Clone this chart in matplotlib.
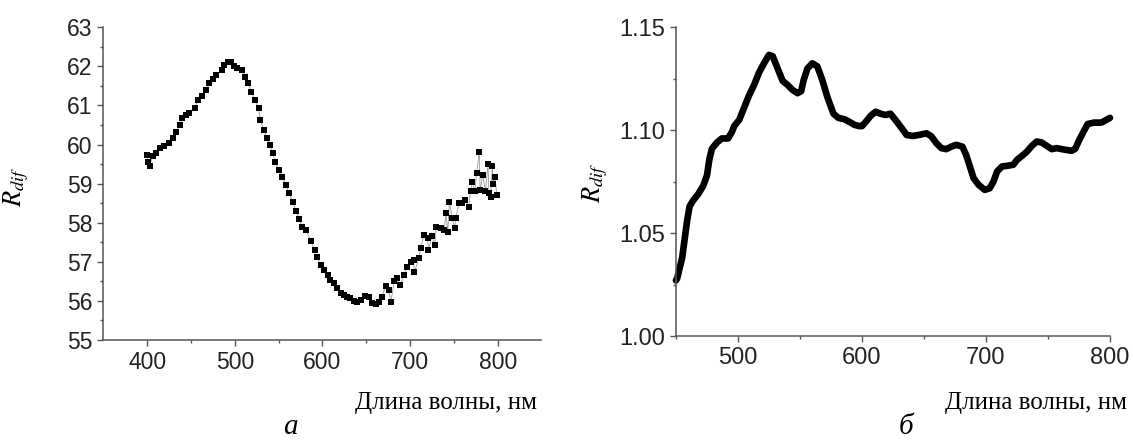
import matplotlib
matplotlib.use('Agg')
import matplotlib.pyplot as plt
from matplotlib.ticker import MultipleLocator, FormatStrFormatter

plt.rcParams['mathtext.fontset'] = 'stix'

# panel (а): scattered points, wavelength (nm) vs R_dif
wl_a = [400, 401, 403, 406, 410, 415, 419, 425, 429, 433, 437, 440, 444, 448,
        454, 458, 463, 467, 471, 475, 479, 485, 488, 492, 496, 499, 502, 508,
        512, 515, 519, 523, 527, 529, 533, 537, 540, 543, 546, 550, 554, 558,
        562, 566, 570, 573, 577, 581, 587, 591, 594, 598, 602, 606, 609, 613,
        617, 621, 625, 628, 632, 636, 640, 644, 649, 653, 657, 661, 665, 668,
        672, 676, 678, 682, 685, 689, 693, 697, 701, 704, 705, 710, 712, 716,
        720, 721, 725, 728, 730, 735, 739, 741, 743, 745, 748, 751, 752, 756,
        759, 763, 767, 769, 771, 774, 776, 779, 780, 783, 786, 789, 790, 792,
        794, 795, 797, 799]
r_a = [59.73, 59.55, 59.45, 59.70, 59.78, 59.90, 59.96, 60.03, 60.16, 60.33,
       60.50, 60.67, 60.76, 60.80, 60.93, 61.14, 61.24, 61.40, 61.57, 61.67,
       61.78, 61.90, 62.04, 62.10, 62.12, 62.00, 61.95, 61.90, 61.74, 61.57,
       61.35, 61.14, 60.93, 60.63, 60.37, 60.16, 59.99, 59.78, 59.56, 59.35,
       59.18, 58.97, 58.75, 58.54, 58.29, 58.10, 57.90, 57.82, 57.52, 57.31,
       57.13, 56.92, 56.79, 56.67, 56.54, 56.45, 56.33, 56.20, 56.15, 56.11,
       56.07, 56.01, 55.98, 56.03, 56.13, 56.09, 55.94, 55.92, 55.98, 56.11,
       56.37, 56.28, 55.96, 56.50, 56.58, 56.41, 56.67, 56.88, 57.00, 57.05,
       56.73, 57.09, 57.35, 57.69, 57.60, 57.31, 57.65, 57.43, 57.90, 57.86,
       57.82, 58.24, 57.77, 58.54, 58.12, 57.86, 58.12, 58.50, 58.50, 58.58,
       58.41, 58.80, 59.05, 58.80, 59.27, 59.82, 58.84, 59.22, 58.80, 59.50,
       58.75, 58.67, 59.46, 59.00, 59.18, 58.71]

# panel (б): smooth curve
wl_b = [450, 451, 453, 455, 457, 459, 461, 464, 468, 472, 475, 477, 479, 483,
        487, 492, 495, 497, 501, 505, 509, 513, 517, 521, 525, 528, 532, 536,
        540, 544, 548, 551, 553, 556, 560, 564, 568, 572, 577, 581, 586, 590,
        594, 598, 600, 603, 607, 611, 615, 619, 623, 627, 632, 636, 641, 646,
        652, 656, 660, 664, 668, 672, 676, 681, 684, 687, 690, 694, 699, 703,
        706, 709, 713, 717, 722, 725, 729, 733, 737, 741, 745, 749, 753, 757,
        763, 769, 772, 775, 779, 782, 787, 793, 797, 800]
r_b = [1.027, 1.028, 1.033, 1.038, 1.047, 1.056, 1.063, 1.066, 1.069, 1.073,
       1.078, 1.086, 1.091, 1.094, 1.096, 1.096, 1.099, 1.102, 1.105, 1.111,
       1.117, 1.122, 1.128, 1.1325, 1.1366, 1.136, 1.130, 1.124, 1.122, 1.1196,
       1.118, 1.119, 1.1244, 1.130, 1.1325, 1.131, 1.1244, 1.1163, 1.108, 1.106,
       1.1053, 1.104, 1.1026, 1.102, 1.102, 1.104, 1.107, 1.109, 1.108, 1.1074,
       1.108, 1.105, 1.101, 1.0977, 1.0972, 1.0977, 1.0985, 1.097, 1.0937,
       1.0913, 1.0908, 1.092, 1.0929, 1.092, 1.088, 1.0824, 1.0767, 1.0735,
       1.071, 1.0718, 1.075, 1.080, 1.0824, 1.0827, 1.0832, 1.0856, 1.0875,
       1.0896, 1.0924, 1.0945, 1.094, 1.0924, 1.0908, 1.0913, 1.0906, 1.090,
       1.091, 1.095, 1.0997, 1.103, 1.1037, 1.1037, 1.105, 1.106]

xlabel = 'Длина волны, нм'
ylabel = r'$R_{dif}$'

fig = plt.figure(figsize=(11.33, 4.42), dpi=100)
ax1 = fig.add_axes([0.0913, 0.2308, 0.3866, 0.7074])
ax2 = fig.add_axes([0.5966, 0.2398, 0.3831, 0.6984])


def style(ax, size):
    for s in ['top', 'right']:
        ax.spines[s].set_visible(False)
    for s in ['left', 'bottom']:
        ax.spines[s].set_color('#555555')
        ax.spines[s].set_linewidth(1.1)
    ax.tick_params(which='major', direction='out', length=4, width=1,
                   color='#555555', labelsize=size, labelcolor='#222222', pad=4)
    ax.tick_params(which='minor', direction='out', length=2.5, width=1,
                   color='#555555')
    for lab in ax.get_xticklabels() + ax.get_yticklabels():
        lab.set_family('Liberation Sans')


# (а)
ax1.plot(wl_a, r_a, color='#9a9a9a', lw=0.6, zorder=1)
ax1.plot(wl_a, r_a, ls='none', marker='s', ms=5, color='black',
         markeredgewidth=0, zorder=2)
ax1.set_xlim(350, 850)
ax1.set_ylim(55, 63)
ax1.set_xticks([400, 500, 600, 700, 800])
ax1.set_xticks([450, 550, 650, 750], minor=True)
ax1.yaxis.set_major_locator(MultipleLocator(1))
ax1.yaxis.set_minor_locator(MultipleLocator(0.5))
style(ax1, 16.5)

# (б)
ax2.plot(wl_b, r_b, color='black', lw=4.8, solid_joinstyle='round',
         solid_capstyle='round', clip_on=False)
ax2.set_xlim(450, 800)
ax2.set_ylim(1.00, 1.15)
ax2.set_xticks([500, 600, 700, 800])
ax2.set_xticks([450, 550, 650, 750], minor=True)
ax2.set_yticks([1.00, 1.05, 1.10, 1.15])
ax2.yaxis.set_minor_locator(MultipleLocator(0.025))
ax2.yaxis.set_major_formatter(FormatStrFormatter('%.2f'))
style(ax2, 17)

# axis titles placed like in the original
fig.text(0.474, 0.075, xlabel, ha='right', va='baseline',
         family='Liberation Serif', fontsize=18)
fig.text(0.9947, 0.075, xlabel, ha='right', va='baseline',
         family='Liberation Serif', fontsize=18)
fig.text(0.014, 0.577, ylabel, rotation=90, ha='center', va='center',
         fontsize=19)
fig.text(0.525, 0.586, ylabel, rotation=90, ha='center', va='center',
         fontsize=19)
fig.text(0.256, 0.004, 'а', ha='center', va='bottom', style='italic',
         family='Liberation Serif', fontsize=21)
fig.text(0.800, 0.004, 'б', ha='center', va='bottom', style='italic',
         family='Liberation Serif', fontsize=21)

fig.savefig('out.png', dpi=100)
